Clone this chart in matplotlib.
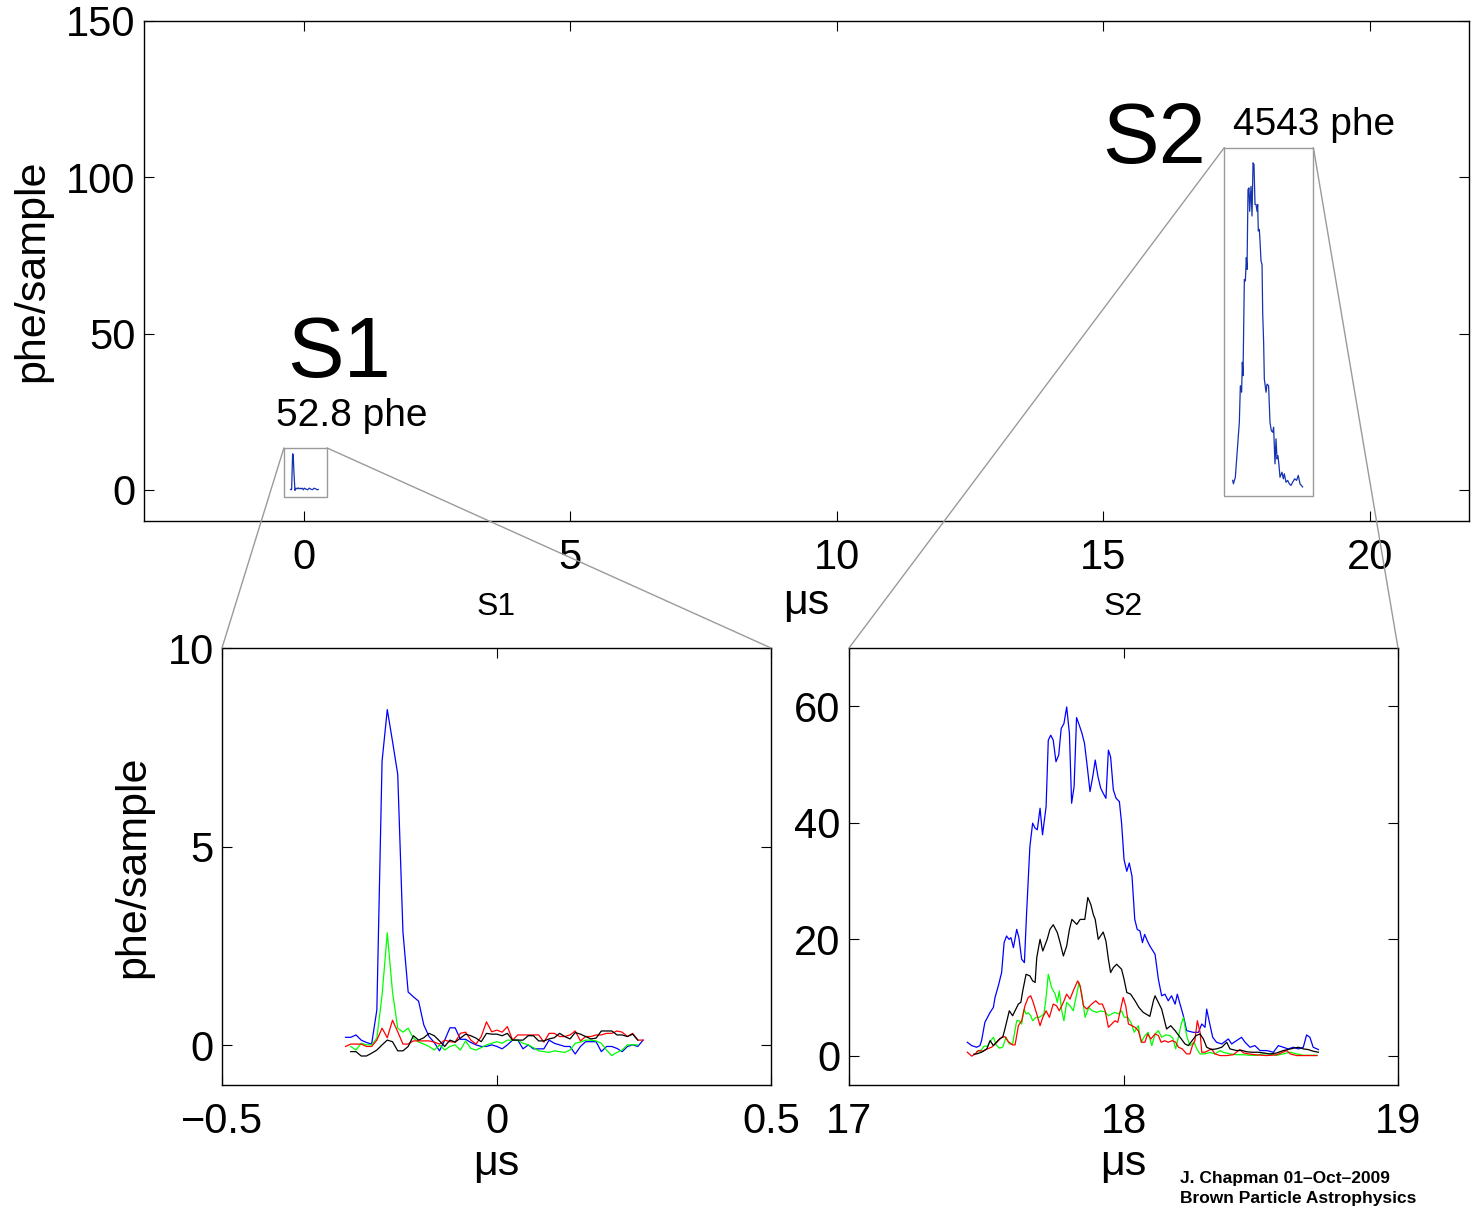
import numpy as np
import matplotlib
matplotlib.use("Agg")
import matplotlib.pyplot as plt
from matplotlib.patches import Rectangle, ConnectionPatch

plt.rcParams["font.family"] = ["Liberation Sans", "DejaVu Sans"]

# ---------------- summed waveform (top panel) ----------------
sum_s1_t = [-0.25, -0.24, -0.23, -0.212, -0.20, -0.187, -0.175, -0.168, -0.15, -0.13,
            -0.11, -0.09, -0.07, -0.05, -0.03, -0.01, 0.01, 0.04, 0.07, 0.10, 0.13,
            0.16, 0.19, 0.22, 0.25, 0.27]
sum_s1_v = [0.1, 0.0, 0.2, 11.5, 11.2, 5.6, 1.9, -0.2, 0.5, 0.3, 0.6, 0.3, 0.5, 0.3,
            0.5, 0.0, 0.5, 0.2, 0.0, 0.5, 0.2, 0.0, 0.5, 0.3, 0.0, 0.1]

sum_s2_t = [17.426, 17.44, 17.476, 17.551, 17.57, 17.594, 17.607, 17.62, 17.645, 17.664,
            17.682, 17.695, 17.714, 17.732, 17.745, 17.77, 17.789, 17.808, 17.826, 17.845,
            17.864, 17.883, 17.895, 17.907, 17.926, 17.939, 17.958, 17.977, 17.989, 18.007,
            18.02, 18.052, 18.07, 18.10, 18.126, 18.151, 18.176, 18.194, 18.22, 18.239,
            18.258, 18.276, 18.295, 18.314, 18.351, 18.376, 18.395, 18.426, 18.457, 18.489,
            18.52, 18.551, 18.589, 18.626, 18.657, 18.689, 18.738]
sum_s2_v = [3.0, 1.9, 4.0, 21.6, 33.3, 31.2, 40.8, 36.5, 67.3, 66.8,
            74.3, 70.5, 96.1, 96.6, 89.1, 97.1, 87.6, 104.6, 104.1, 91.3,
            91.3, 89.1, 91.3, 82.8, 83.3, 79.6, 73.2, 72.1, 56.7, 47.1,
            35.4, 31.2, 33.8, 33.3, 21.6, 18.9, 18.4, 20.0, 8.3, 16.3,
            9.9, 10.9, 7.8, 4.0, 5.6, 3.5, 5.1, 2.4, 3.0, 1.9,
            1.4, 2.4, 3.5, 3.0, 4.6, 1.9, 0.9]

# ---------------- S1 channels (10 ns samples) ----------------
s1_t = np.linspace(-0.275, 0.267, 58)
s1_blue = [0.20, 0.20, 0.26, 0.13, 0.07, 0.03, 0.89, 7.15, 8.45, 7.65, 6.82, 2.85, 1.34,
           1.22, 1.11, 0.51, 0.22, 0.07, -0.14, 0.13, 0.44, 0.44, 0.15, 0.15, 0.07, 0.01,
           -0.03, -0.03, 0.01, -0.03, -0.09, 0.01, 0.13, 0.13, -0.09, 0.01, -0.09, -0.09,
           -0.09, 0.13, 0.05, 0.01, -0.03, -0.03, -0.22, -0.03, 0.09, 0.09, 0.09, -0.16,
           -0.03, -0.03, -0.08, -0.16, -0.03, 0.01, -0.03, 0.13]
s1_green = [-0.03, -0.12, 0.05, 0.01, 0.01, 0.18, 1.26, 2.83, 1.34, 0.43, 0.33, 0.43,
            0.18, 0.08, 0.03, -0.03, -0.12, 0.01, -0.12, -0.03, 0.01, -0.12, 0.11, -0.08,
            -0.12, -0.06, 0.01, 0.05, 0.09, 0.05, 0.13, 0.13, 0.13, 0.05, 0.01, -0.06,
            -0.14, -0.16, -0.18, -0.14, -0.16, -0.18, -0.12, 0.05, 0.08, 0.13, 0.13, 0.11,
            0.05, -0.12, -0.26, -0.18, -0.12, 0.01, 0.01, 0.01]
s1_red = [-0.03, 0.03, 0.03, 0.03, -0.03, -0.03, 0.13, 0.43, 0.19, 0.63, 0.34, 0.03,
          0.03, 0.11, 0.11, 0.11, 0.11, 0.08, 0.03, 0.13, 0.09, 0.08, 0.30, 0.33, 0.13,
          0.03, 0.22, 0.59, 0.34, 0.38, 0.33, 0.47, 0.13, 0.26, 0.26, 0.26, 0.26, 0.26,
          0.08, 0.30, 0.30, 0.22, 0.22, 0.26, 0.36, 0.11, 0.22, 0.22, 0.26, 0.26, 0.30,
          0.30, 0.36, 0.33, 0.22, 0.30, 0.13, 0.13]
s1_black = [-0.16, -0.16, -0.27, -0.27, -0.20, -0.12, 0.01, 0.13, 0.09, -0.14, -0.14,
            -0.03, 0.24, 0.13, 0.19, 0.30, 0.24, 0.11, -0.03, 0.13, 0.08, 0.18, 0.28,
            0.24, 0.18, 0.09, 0.30, 0.28, 0.28, 0.24, 0.30, 0.13, 0.13, 0.13, 0.24, 0.24,
            0.11, 0.11, 0.16, 0.19, 0.30, 0.22, 0.16, 0.32, 0.28, 0.22, 0.16, 0.18, 0.36,
            0.36, 0.36, 0.26, 0.26, 0.22, 0.28, 0.13]

# ---------------- S2 channels ----------------
s2_blue_t = [17.431, 17.447, 17.465, 17.477, 17.483, 17.495, 17.514, 17.526, 17.532, 17.544,
             17.556, 17.565, 17.574, 17.583, 17.590, 17.599, 17.611, 17.619, 17.629, 17.639,
             17.647, 17.659, 17.669, 17.678, 17.686, 17.696, 17.705, 17.718, 17.726, 17.735,
             17.744, 17.754, 17.764, 17.773, 17.783, 17.793, 17.803, 17.811, 17.820, 17.829,
             17.839, 17.849, 17.858, 17.868, 17.878, 17.888, 17.897, 17.907, 17.917, 17.926,
             17.936, 17.945, 17.953, 17.963, 17.973, 17.985, 17.993, 18.002, 18.012, 18.021,
             18.031, 18.041, 18.050, 18.060, 18.069, 18.077, 18.087, 18.096, 18.115, 18.127,
             18.139, 18.151, 18.163, 18.175, 18.188, 18.196, 18.206, 18.218, 18.230, 18.254,
             18.273, 18.285, 18.297, 18.303, 18.313, 18.325, 18.339, 18.358, 18.382, 18.394,
             18.412, 18.430, 18.443, 18.461, 18.479, 18.497, 18.522, 18.546, 18.564, 18.582,
             18.600, 18.619, 18.637, 18.655, 18.667, 18.679, 18.691, 18.710]
s2_blue_v = [2.33, 1.76, 1.48, 1.76, 2.62, 5.75, 7.46, 8.32, 10.03, 12.02,
             14.30, 19.43, 20.57, 20.0, 20.28, 18.57, 21.71, 20.28, 16.58, 16.01,
             24.56, 35.95, 39.94, 39.08, 38.80, 42.50, 37.94, 42.79, 54.18, 55.04,
             54.18, 50.48, 51.62, 56.18, 57.03, 59.88, 55.32, 43.36, 46.21, 58.06,
             56.75, 55.32, 53.61, 49.63, 45.35, 47.92, 50.77, 47.92, 45.92, 45.07,
             44.21, 52.47, 51.33, 45.64, 44.21, 43.64, 39.94, 33.67, 31.68, 33.10,
             30.82, 23.42, 21.71, 21.42, 19.43, 20.85, 19.71, 18.86, 17.43, 13.16,
             10.31, 10.59, 9.45, 10.31, 8.88, 10.59, 8.88, 6.89, 4.33, 4.04,
             4.04, 5.47, 4.90, 8.03, 5.75, 3.19, 2.33, 2.05, 2.90, 2.05,
             2.62, 3.19, 2.33, 1.48, 1.76, 0.91, 0.91, 0.62, 1.76, 1.48,
             1.19, 1.48, 1.19, 1.48, 3.59, 3.19, 1.48, 1.08]

s2_black_t = [17.455, 17.465, 17.483, 17.502, 17.514, 17.526, 17.548, 17.560, 17.568, 17.584,
              17.596, 17.617, 17.626, 17.633, 17.645, 17.659, 17.669, 17.678, 17.684, 17.696,
              17.706, 17.722, 17.732, 17.744, 17.759, 17.769, 17.781, 17.793, 17.803, 17.812,
              17.830, 17.842, 17.859, 17.870, 17.881, 17.890, 17.897, 17.908, 17.926, 17.936,
              17.945, 17.953, 17.963, 17.975, 17.993, 18.002, 18.012, 18.026, 18.042, 18.056,
              18.072, 18.096, 18.109, 18.115, 18.127, 18.139, 18.157, 18.172, 18.188, 18.206,
              18.224, 18.236, 18.264, 18.279, 18.291, 18.303, 18.321, 18.339, 18.358, 18.376,
              18.388, 18.412, 18.430, 18.449, 18.467, 18.490, 18.510, 18.534, 18.558, 18.582,
              18.600, 18.619, 18.637, 18.655, 18.673, 18.691, 18.710]
s2_black_v = [0.3, 0.34, 0.63, 1.2, 2.62, 1.76, 2.9, 3.2, 4.62, 7.74,
              6.89, 8.89, 9.18, 11.16, 14.0, 13.73, 12.87, 12.6, 16.87, 20.0,
              18.0, 20.0, 21.71, 22.51, 21.15, 19.44, 17.15, 18.85, 21.71, 23.42,
              22.56, 23.42, 23.42, 27.18, 25.98, 24.27, 23.42, 20.0, 21.25, 19.71,
              16.58, 14.3, 15.15, 15.72, 14.87, 13.16, 10.88, 10.59, 9.45, 8.32,
              7.46, 6.78, 9.45, 10.31, 9.17, 8.03, 4.61, 5.18, 4.33, 3.19,
              2.05, 1.76, 3.47, 3.76, 2.9, 1.48, 1.08, 1.2, 1.48, 2.33,
              1.19, 0.91, 0.95, 0.7, 0.62, 0.62, 0.5, 0.33, 0.5, 0.91,
              1.1, 1.31, 1.48, 1.2, 1.08, 0.8, 0.62]

s2_red_t = [17.431, 17.447, 17.459, 17.471, 17.488, 17.504, 17.520, 17.532, 17.544, 17.556,
            17.568, 17.580, 17.596, 17.605, 17.617, 17.629, 17.641, 17.653, 17.662, 17.671,
            17.684, 17.696, 17.706, 17.718, 17.730, 17.744, 17.756, 17.766, 17.781, 17.793,
            17.805, 17.817, 17.833, 17.842, 17.854, 17.866, 17.884, 17.899, 17.911, 17.923,
            17.933, 17.945, 17.957, 17.969, 17.979, 17.987, 17.999, 18.008, 18.018, 18.030,
            18.042, 18.054, 18.066, 18.078, 18.088, 18.100, 18.115, 18.127, 18.137, 18.150,
            18.163, 18.178, 18.190, 18.200, 18.214, 18.230, 18.242, 18.251, 18.260, 18.269,
            18.279, 18.285, 18.297, 18.309, 18.321, 18.333, 18.352, 18.376, 18.400, 18.424,
            18.437, 18.455, 18.485, 18.520, 18.557, 18.595, 18.607, 18.631, 18.660, 18.705]
s2_red_v = [0.63, -0.05, 0.3, 0.91, 0.8, 1.2, 1.5, 2.05, 2.6, 3.2,
            3.3, 2.45, 1.88, 1.88, 5.18, 6.03, 8.6, 10.03, 10.31, 9.18,
            7.18, 5.18, 6.62, 7.74, 6.62, 8.89, 8.6, 7.74, 9.18, 10.6,
            9.74, 11.16, 12.87, 12.02, 8.6, 8.03, 8.89, 9.45, 8.9, 8.89,
            7.74, 4.9, 5.47, 6.03, 5.76, 7.47, 10.03, 8.6, 5.47, 5.2,
            4.9, 4.33, 2.34, 2.34, 3.76, 2.9, 3.76, 3.5, 2.34, 2.6,
            2.34, 2.62, 2.34, 1.49, 1.2, 0.34, 0.34, 1.76, 2.62, 6.03,
            4.05, 0.63, 0.63, 0.91, 1.2, 0.34, 0.05, 0.05, 0.2, 1.08,
            0.5, 0.34, 0.17, 0.05, 0.17, 0.91, 0.34, 0.05, 0.05, 0.05]

s2_green_t = [17.465, 17.480, 17.492, 17.504, 17.514, 17.526, 17.536, 17.548, 17.560, 17.572,
              17.584, 17.596, 17.611, 17.620, 17.629, 17.638, 17.645, 17.653, 17.662, 17.669,
              17.681, 17.693, 17.702, 17.710, 17.718, 17.726, 17.738, 17.751, 17.759, 17.766,
              17.775, 17.783, 17.793, 17.805, 17.817, 17.827, 17.838, 17.848, 17.860, 17.874,
              17.886, 17.902, 17.917, 17.933, 17.945, 17.957, 17.969, 17.981, 17.993, 18.003,
              18.015, 18.027, 18.039, 18.054, 18.064, 18.078, 18.090, 18.103, 18.115, 18.127,
              18.139, 18.154, 18.169, 18.180, 18.190, 18.200, 18.209, 18.218, 18.230, 18.242,
              18.257, 18.267, 18.279, 18.297, 18.315, 18.333, 18.352, 18.364, 18.388, 18.412,
              18.436, 18.460, 18.485, 18.509, 18.533, 18.558, 18.582, 18.607, 18.631, 18.655,
              18.680, 18.705]
s2_green_v = [0.74, 0.9, 1.66, 1.66, 2.45, 3.2, 1.88, 1.31, 1.5, 3.2,
              2.05, 2.05, 6.03, 6.03, 5.47, 8.03, 7.18, 7.4, 6.89, 6.03,
              6.6, 6.62, 6.9, 7.18, 10.03, 14.02, 11.74, 10.6, 9.18, 11.16,
              7.74, 6.03, 9.18, 8.6, 7.74, 10.03, 12.6, 10.6, 6.62, 8.32,
              7.74, 7.47, 7.7, 7.57, 6.89, 7.2, 7.47, 7.2, 7.74, 6.62,
              6.62, 5.76, 4.05, 5.18, 2.34, 3.47, 4.05, 1.76, 3.76, 4.33,
              3.2, 3.6, 3.47, 3.0, 1.2, 3.2, 5.18, 6.62, 3.47, 1.76,
              2.34, 1.2, 0.34, 0.34, 0.6, 0.34, 0.91, 0.6, 0.34, 0.2,
              0.2, 0.1, 0.1, 0.34, 0.34, 0.1, 0.34, 0.63, 0.34, 0.1,
              0.1, 0.1]

top_xticks = [0, 5, 10, 15, 20]
top_yticks = [0, 50, 100, 150]
s1_xticks = [-0.5, 0, 0.5]
s1_yticks = [0, 5, 10]
s2_xticks = [17, 18, 19]
s2_yticks = [0, 20, 40, 60]

# ---------------- figure layout ----------------
W, H = 1471, 1214
fig = plt.figure(figsize=(W / 100, H / 100), dpi=100)


def axes_px(left, top, right, bottom):
    return fig.add_axes([left / W, 1 - bottom / H, (right - left) / W, (bottom - top) / H])


ax_top = axes_px(144, 21, 1469, 521)
ax_s1 = axes_px(222, 648, 771, 1085)
ax_s2 = axes_px(849, 648, 1398, 1085)

LW = 0.9
SUMC = "#1533b0"
TICK_FS = 30
LABEL_FS = 31


def style(ax, xt, yt, xpad, ypad):
    ax.set_xticks(xt)
    ax.set_yticks(yt)
    ax.tick_params(direction="in", top=True, right=True, length=7, width=0.8,
                   labelsize=TICK_FS)
    ax.tick_params(axis="x", pad=xpad)
    ax.tick_params(axis="y", pad=ypad)
    for s in ax.spines.values():
        s.set_linewidth(1.0)


# top panel: summed waveform
ax_top.plot(sum_s1_t, sum_s1_v, color=SUMC, lw=LW)
ax_top.plot(sum_s2_t, sum_s2_v, color=SUMC, lw=LW)
ax_top.set_xlim(-3.0, 21.86)
ax_top.set_ylim(-10, 150)
style(ax_top, top_xticks, top_yticks, 12, 6)
ax_top.set_xlabel("\u03bcs", fontsize=31, labelpad=4)
ax_top.set_ylabel("phe/sample", fontsize=LABEL_FS, labelpad=10)

box_s1 = (-0.375, -2.2, 0.806, 15.6)
box_s2 = (17.27, -1.9, 1.67, 111.4)
for bx in (box_s1, box_s2):
    ax_top.add_patch(Rectangle((bx[0], bx[1]), bx[2], bx[3], fill=False,
                               ec="#9a9a9a", lw=1.0))

ax_top.text(-0.32, 36, "S1", fontsize=61, ha="left", va="baseline")
ax_top.text(-0.53, 20.5, "52.8 phe", fontsize=28, ha="left", va="baseline")
ax_top.text(14.98, 104.5, "S2", fontsize=61, ha="left", va="baseline")
ax_top.text(17.44, 113.5, "4543 phe", fontsize=28, ha="left", va="baseline")

# S1 zoom
ax_s1.plot(s1_t, s1_blue, color="#0000ff", lw=LW)
ax_s1.plot(s1_t[1:1 + len(s1_green)], s1_green, color="#00ff00", lw=LW)
ax_s1.plot(s1_t[:len(s1_red)], s1_red, color="#ff0000", lw=LW)
ax_s1.plot(s1_t[1:1 + len(s1_black)], s1_black, color="#000000", lw=LW)
ax_s1.set_xlim(-0.5, 0.5)
ax_s1.set_ylim(-1, 10)
style(ax_s1, s1_xticks, s1_yticks, 12, 6)
ax_s1.set_xticklabels(["\u22120.5", "0", "0.5"])
ax_s1.set_title("S1", fontsize=23, pad=24)
ax_s1.set_xlabel("\u03bcs", fontsize=31, labelpad=2)
ax_s1.set_ylabel("phe/sample", fontsize=LABEL_FS, labelpad=10)

# S2 zoom
ax_s2.plot(s2_blue_t, s2_blue_v, color="#0000ff", lw=LW)
ax_s2.plot(s2_green_t, s2_green_v, color="#00ff00", lw=LW)
ax_s2.plot(s2_red_t, s2_red_v, color="#ff0000", lw=LW)
ax_s2.plot(s2_black_t, s2_black_v, color="#000000", lw=LW)
ax_s2.set_xlim(17, 19)
ax_s2.set_ylim(-5, 70)
style(ax_s2, s2_xticks, s2_yticks, 12, 6)
ax_s2.set_title("S2", fontsize=23, pad=24)
ax_s2.set_xlabel("\u03bcs", fontsize=31, labelpad=2)

# connector lines from the boxes to the zoomed panels
links = [((box_s1[0], box_s1[1] + box_s1[3]), ax_s1, (0, 1)),
         ((box_s1[0] + box_s1[2], box_s1[1] + box_s1[3]), ax_s1, (1, 1)),
         ((box_s2[0], box_s2[1] + box_s2[3]), ax_s2, (0, 1)),
         ((box_s2[0] + box_s2[2], box_s2[1] + box_s2[3]), ax_s2, (1, 1))]
for xyA, axB, xyB in links:
    cp = ConnectionPatch(xyA=xyA, coordsA=ax_top.transData, xyB=xyB,
                         coordsB=axB.transAxes, color="#9a9a9a", lw=1.0)
    fig.add_artist(cp)

fig.text(1180 / W, 1 - 1183 / H, "J. Chapman 01\u2013Oct\u20132009", fontsize=12.5,
         fontweight="bold", ha="left", va="baseline")
fig.text(1180 / W, 1 - 1203 / H, "Brown Particle Astrophysics", fontsize=12.5,
         fontweight="bold", ha="left", va="baseline")

fig.savefig("out.png", dpi=100)
